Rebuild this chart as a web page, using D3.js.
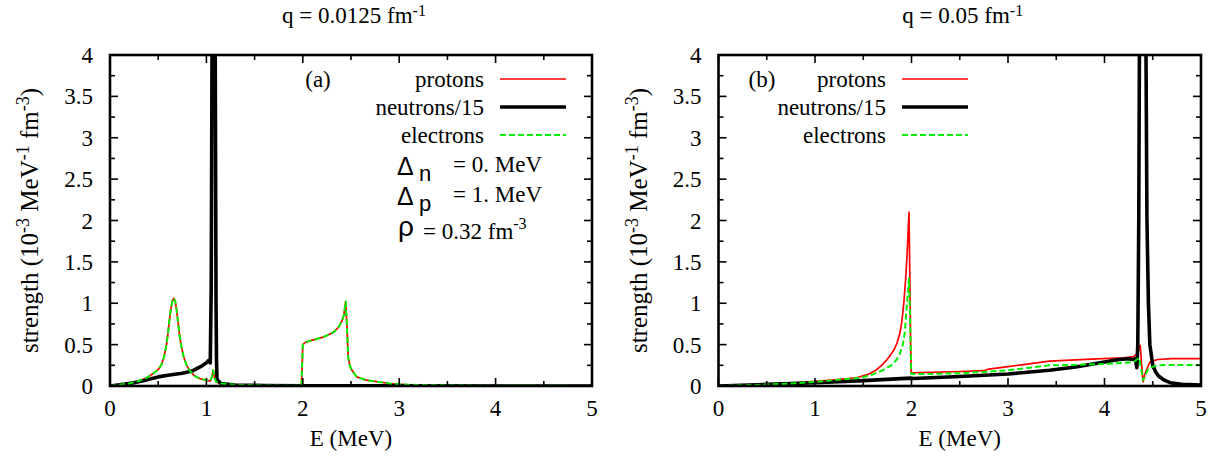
<!DOCTYPE html>
<html>
<head>
<meta charset="utf-8">
<script src="https://cdn.jsdelivr.net/npm/d3@7"></script>
</head>
<body style="margin:0;background:#fff">
<svg id="chart" width="1212" height="458"></svg>
<script>
// Data: [E (MeV), strength (10^-3 MeV^-1 fm^-3)]

// panel (a), q = 0.0125 fm^-1
const protonsA = [
  [0, 0], [0.1, 0.015], [0.2, 0.03], [0.25, 0.045], [0.3, 0.06], [0.38, 0.1], [0.45, 0.15],
  [0.5, 0.2], [0.535, 0.26], [0.56, 0.35], [0.586, 0.5], [0.6, 0.62], [0.615, 0.78],
  [0.63, 0.92], [0.645, 1.02], [0.66, 1.06], [0.675, 1.03], [0.69, 0.93], [0.705, 0.78],
  [0.72, 0.63], [0.74, 0.48], [0.765, 0.35], [0.795, 0.25], [0.83, 0.18], [0.88, 0.12],
  [0.93, 0.09], [0.98, 0.075], [1.02, 0.065], [1.04, 0.06],
  [1.06, 0.12], [1.07, 0.19], [1.085, 0.1], [1.1, 0.05], [1.15, 0.03], [1.3, 0.015],
  [1.5, 0.008], [1.8, 0.004], [1.985, 0.004], [1.995, 0.3], [2.0, 0.5], [2.03, 0.53],
  [2.1, 0.555], [2.21, 0.59], [2.32, 0.65], [2.37, 0.71], [2.4, 0.77], [2.425, 0.85],
  [2.445, 1.02], [2.46, 0.67], [2.47, 0.35], [2.49, 0.24], [2.51, 0.19], [2.56, 0.11],
  [2.66, 0.07], [2.9, 0.03], [3.1, 0.015], [3.5, 0.006], [4.0, 0.003], [5.0, 0.001]
];
const neutronsA = [
  [0, 0], [0.1, 0.015], [0.25, 0.04], [0.4, 0.08], [0.5, 0.11], [0.6, 0.13], [0.75, 0.155],
  [0.85, 0.18], [0.9, 0.21], [0.95, 0.24], [1.0, 0.28], [1.025, 0.31], [1.04, 0.28],
  [1.05, 1.2], [1.06, 4.6], [1.075, 5.0], [1.09, 4.6], [1.1, 1.0], [1.105, 0.3],
  [1.11, 0.08], [1.15, 0.03], [1.3, 0.012], [1.6, 0.005], [2.0, 0.002], [3.0, 0.001], [5.0, 0]
];
const electronsA = [
  [0, 0], [0.1, 0.015], [0.2, 0.03], [0.25, 0.045], [0.3, 0.06], [0.38, 0.1], [0.45, 0.15],
  [0.5, 0.2], [0.535, 0.26], [0.56, 0.35], [0.586, 0.5], [0.6, 0.62], [0.615, 0.78],
  [0.63, 0.92], [0.645, 1.02], [0.66, 1.06], [0.675, 1.03], [0.69, 0.93], [0.705, 0.78],
  [0.72, 0.63], [0.74, 0.48], [0.765, 0.35], [0.795, 0.25], [0.83, 0.18], [0.88, 0.12],
  [0.93, 0.09], [0.98, 0.075], [1.02, 0.065], [1.04, 0.06],
  [1.06, 0.12], [1.07, 0.19], [1.085, 0.1], [1.1, 0.05], [1.15, 0.03], [1.3, 0.015],
  [1.5, 0.008], [1.8, 0.004], [1.985, 0.004], [1.995, 0.3], [2.0, 0.5], [2.03, 0.53],
  [2.1, 0.555], [2.21, 0.59], [2.32, 0.65], [2.37, 0.71], [2.4, 0.77], [2.425, 0.85],
  [2.445, 1.02], [2.46, 0.67], [2.47, 0.35], [2.49, 0.24], [2.51, 0.19], [2.56, 0.11],
  [2.66, 0.07], [2.9, 0.03], [3.1, 0.015], [3.5, 0.006], [4.0, 0.003], [5.0, 0.001]
];

// panel (b), q = 0.05 fm^-1
const protonsB = [
  [0, 0], [0.25, 0.01], [0.5, 0.02], [0.75, 0.035], [1.0, 0.055], [1.2, 0.075], [1.43, 0.1],
  [1.55, 0.14], [1.63, 0.19], [1.69, 0.25], [1.74, 0.31], [1.78, 0.37], [1.82, 0.44],
  [1.85, 0.52], [1.88, 0.64], [1.9, 0.78], [1.92, 1.0], [1.94, 1.3], [1.955, 1.6],
  [1.974, 2.1], [1.982, 1.4], [1.99, 0.6], [1.996, 0.16], [2.2, 0.165],
  [2.5, 0.175], [2.75, 0.185], [2.8, 0.205], [3.0, 0.235], [3.2, 0.265], [3.43, 0.3],
  [3.7, 0.315], [3.98, 0.33], [4.2, 0.34], [4.3, 0.355], [4.34, 0.39], [4.37, 0.49],
  [4.385, 0.25], [4.4, 0.05], [4.42, 0.15], [4.47, 0.29], [4.55, 0.32], [4.7, 0.33], [5.0, 0.33]
];
const neutronsB = [
  [0, 0], [0.5, 0.02], [1.0, 0.04], [1.5, 0.065], [1.99, 0.095], [2.02, 0.09], [2.5, 0.115],
  [3.0, 0.145], [3.43, 0.19], [3.7, 0.23], [4.0, 0.29], [4.15, 0.32], [4.25, 0.33],
  [4.3, 0.32], [4.32, 0.33], [4.335, 0.22], [4.345, 0.5], [4.355, 2.0], [4.365, 5.0],
  [4.425, 5.0], [4.44, 2.0], [4.455, 1.0], [4.47, 0.5], [4.5, 0.25], [4.53, 0.17],
  [4.56, 0.12], [4.62, 0.07], [4.68, 0.04], [4.8, 0.02], [5.0, 0.01]
];
const electronsB = [
  [0, 0], [0.25, 0.008], [0.5, 0.018], [0.75, 0.03], [1.0, 0.05], [1.2, 0.07], [1.48, 0.1],
  [1.6, 0.14], [1.7, 0.19], [1.79, 0.25], [1.84, 0.31], [1.88, 0.39], [1.91, 0.5],
  [1.93, 0.64], [1.95, 0.95], [1.974, 1.3], [1.984, 0.9], [1.992, 0.4], [1.998, 0.145],
  [2.2, 0.145], [2.5, 0.155], [2.75, 0.17], [3.0, 0.19], [3.43, 0.25], [3.7, 0.255],
  [3.98, 0.265], [4.2, 0.28], [4.3, 0.29], [4.36, 0.34], [4.38, 0.2], [4.4, 0.07],
  [4.43, 0.15], [4.46, 0.22], [4.55, 0.25], [4.7, 0.255], [5.0, 0.255]
];

const xTicks = [0, 1, 2, 3, 4, 5];
const yTicks = [0, 0.5, 1, 1.5, 2, 2.5, 3, 3.5, 4];
const seriesNames = ["protons", "neutrons/15", "electrons"];

const serif = "Liberation Serif";
const sans = "Liberation Sans";
const fs = 23, sup = 16;

const svg = d3.select("#chart");

const styles = {
  "protons": {color: "#ff0000", width: 1.7, dash: null},
  "neutrons/15": {color: "#000000", width: 3.6, dash: null},
  "electrons": {color: "#00ee00", width: 2, dash: "6,3"}
};

const panels = [
  {id: "a", x0: 110, x1: 592, title: "q = 0.0125 fm", tag: "(a)", tagX: 318,
   legendX: 484, data: [protonsA, neutronsA, electronsA], params: true},
  {id: "b", x0: 718.5, x1: 1201, title: "q = 0.05 fm", tag: "(b)", tagX: 762,
   legendX: 886, data: [protonsB, neutronsB, electronsB], params: false}
];

const yTop = 55, yBottom = 386;

panels.forEach(drawPanel);

// every text gets its font set on itself
svg.selectAll("text").each(function () {
  const t = d3.select(this);
  if (!t.attr("font-family")) t.attr("font-family", serif);
  if (!t.attr("font-size")) t.attr("font-size", fs);
  t.attr("fill", "#000");
});

function drawPanel (p) {
  const x = d3.scaleLinear().domain([0, 5]).range([p.x0, p.x1]);
  const y = d3.scaleLinear().domain([0, 4]).range([yBottom, yTop]);
  const g = svg.append("g");

  // clip region = plot frame
  svg.append("clipPath").attr("id", "clip-" + p.id)
    .append("rect")
    .attr("x", p.x0).attr("y", yTop)
    .attr("width", p.x1 - p.x0).attr("height", yBottom - yTop);

  // curves
  const line = d3.line().x((d) => x(d[0])).y((d) => y(d[1]));
  const curves = g.append("g").attr("clip-path", `url(#clip-${p.id})`);
  p.data.forEach((serie, i) => {
    const st = styles[seriesNames[i]];
    curves.append("path")
      .datum(serie)
      .attr("d", line)
      .attr("fill", "none")
      .attr("stroke", st.color)
      .attr("stroke-width", st.width)
      .attr("stroke-linejoin", "round")
      .attr("stroke-dasharray", st.dash);
  });

  // ticks (inward, mirrored on all sides)
  const ticks = g.append("g").attr("stroke", "#000").attr("stroke-width", 1.6);
  d3.range(0, 5.01, 0.5).forEach((v) => {
    const len = (v % 1 === 0) ? 8 : 5;
    ticks.append("line").attr("x1", x(v)).attr("x2", x(v)).attr("y1", yBottom).attr("y2", yBottom - len);
    ticks.append("line").attr("x1", x(v)).attr("x2", x(v)).attr("y1", yTop).attr("y2", yTop + len);
  });
  d3.range(0, 4.01, 0.25).forEach((v) => {
    const len = (v % 0.5 === 0) ? 8 : 5;
    ticks.append("line").attr("x1", p.x0).attr("x2", p.x0 + len).attr("y1", y(v)).attr("y2", y(v));
    ticks.append("line").attr("x1", p.x1).attr("x2", p.x1 - len).attr("y1", y(v)).attr("y2", y(v));
  });

  // frame
  g.append("rect")
    .attr("x", p.x0).attr("y", yTop)
    .attr("width", p.x1 - p.x0).attr("height", yBottom - yTop)
    .attr("fill", "none").attr("stroke", "#000").attr("stroke-width", 2.6);

  // tick labels
  g.selectAll(".xl").data(xTicks).enter().append("text")
    .attr("x", (d) => x(d)).attr("y", 416)
    .attr("text-anchor", "middle")
    .text((d) => d);
  g.selectAll(".yl").data(yTicks).enter().append("text")
    .attr("x", p.x0 - 17).attr("y", (d) => y(d))
    .attr("dy", "0.35em")
    .attr("text-anchor", "end")
    .text((d) => d);

  // axis titles
  const xc = (p.x0 + p.x1) / 2;
  g.append("text").attr("x", xc).attr("y", 446).attr("text-anchor", "middle").text("E (MeV)");

  const t = g.append("text").attr("x", xc + 3).attr("y", 23).attr("text-anchor", "middle");
  t.append("tspan").text(p.title);
  t.append("tspan").attr("dy", -7).attr("font-size", sup).text("-1");

  const yl = g.append("text")
    .attr("font-size", 25)
    .attr("transform", `translate(${p.x0 - 72}, ${(yTop + yBottom) / 2}) rotate(-90)`)
    .attr("text-anchor", "middle");
  yl.append("tspan").text("strength (10");
  yl.append("tspan").attr("dy", -9).attr("font-size", 18).text("-3");
  yl.append("tspan").attr("dy", 9).text(" MeV");
  yl.append("tspan").attr("dy", -9).attr("font-size", 18).text("-1");
  yl.append("tspan").attr("dy", 9).text(" fm");
  yl.append("tspan").attr("dy", -9).attr("font-size", 18).text("-3");
  yl.append("tspan").attr("dy", 9).text(")");

  // panel tag
  g.append("text").attr("x", p.tagX).attr("y", 79).attr("dy", "0.35em")
    .attr("text-anchor", "middle").text(p.tag);

  // legend
  seriesNames.forEach((name, i) => {
    const st = styles[name];
    const ly = 79 + i * 28;
    g.append("text").attr("x", p.legendX).attr("y", ly).attr("dy", "0.35em")
      .attr("text-anchor", "end").text(name);
    g.append("line")
      .attr("x1", p.legendX + 16).attr("x2", p.legendX + 82)
      .attr("y1", ly).attr("y2", ly)
      .attr("stroke", st.color).attr("stroke-width", st.width)
      .attr("stroke-dasharray", st.dash);
  });

  if (p.params) drawParams(g);
}

// gap / density annotations in panel (a)
function drawParams (g) {
  const rows = [
    {sym: "\u0394", sub: "n", val: "= 0. MeV", y: 175},
    {sym: "\u0394", sub: "p", val: "= 1. MeV", y: 205}
  ];
  rows.forEach((r) => {
    g.append("text").attr("font-family", sans).attr("x", 397).attr("y", r.y)
      .attr("font-size", 25).text(r.sym);
    g.append("text").attr("font-family", sans).attr("x", 419).attr("y", r.y + 6)
      .attr("font-size", 22).text(r.sub);
    g.append("text").attr("x", 453).attr("y", r.y - 3).text(r.val);
  });
  g.append("text").attr("font-family", sans).attr("x", 398).attr("y", 236)
    .attr("font-size", 28).text("\u03c1");
  const rho = g.append("text").attr("x", 423).attr("y", 239);
  rho.append("tspan").text("= 0.32 fm");
  rho.append("tspan").attr("dy", -10).attr("font-size", sup).text("-3");
}
</script>
</body>
</html>
